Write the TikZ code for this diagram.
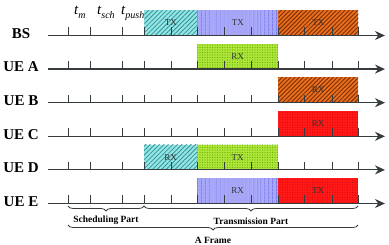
\documentclass[tikz,border=0pt]{standalone}
\usepackage{fontspec}
\setmainfont{Liberation Serif}
\usetikzlibrary{arrows.meta, patterns.meta, decorations.pathreplacing}
\definecolor{axisGray}{RGB}{55,60,62}
\definecolor{cyanFill}{RGB}{150,228,228}
\definecolor{cyanLine}{RGB}{45,150,155}
\definecolor{blueFill}{RGB}{165,165,250}
\definecolor{blueLine}{RGB}{85,85,215}
\definecolor{orangeFill}{RGB}{232,112,32}
\definecolor{orangeLine}{RGB}{125,45,0}
\definecolor{greenFill}{RGB}{175,230,60}
\definecolor{greenLine}{RGB}{105,175,0}
\definecolor{redFill}{RGB}{255,25,25}
\definecolor{redLine}{RGB}{215,0,0}

\tikzset{
  axis/.style={line width=1.2pt, axisGray, -{Stealth[length=10pt,width=9pt]}},
  tick/.style={line width=1pt, axisGray},
  lbl/.style={font=\fontsize{15}{15}\selectfont\bfseries},
  tlbl/.style={anchor=base west, inner sep=0pt, font=\fontsize{15}{15}\selectfont\itshape},
  slot/.style={anchor=south west, inner sep=0pt, minimum height=25pt,
    font=\fontsize{9}{9}\selectfont, text=black!80},
  cyanbox/.style={slot, minimum width=53pt, preaction={fill=cyanFill},
    pattern={Lines[angle=45, distance=3.2pt, line width=0.8pt]}, pattern color=cyanLine},
  bluebox/.style={slot, minimum width=81pt, preaction={fill=blueFill},
    pattern={Lines[angle=90, distance=4pt, line width=0.9pt]}, pattern color=blueLine},
  orangebox/.style={slot, minimum width=80pt, preaction={fill=orangeFill},
    pattern={Lines[angle=45, distance=3pt, line width=0.9pt]}, pattern color=orangeLine},
  greenbox/.style={slot, minimum width=81pt, preaction={fill=greenFill},
    pattern={Dots[distance=2.5pt, radius=0.7pt]}, pattern color=greenLine},
  redbox/.style={slot, minimum width=80pt, preaction={fill=redFill},
    pattern={Dots[distance=2.5pt, radius=0.5pt]}, pattern color=redLine},
  brc/.style={decorate, decoration={brace, mirror, amplitude=5pt}, line width=0.8pt, axisGray},
  part/.style={font=\fontsize{9.5}{9.5}\selectfont\bfseries, inner sep=0pt}
}

\begin{document}
\begin{tikzpicture}[x=1pt, y=-1pt]
\useasboundingbox (0,0) rectangle (389,245);

% time labels
\node[tlbl] (tm) at (74,15) {t\raisebox{-3.5pt}{\fontsize{10}{10}\selectfont m}};
\node[tlbl] (tsch) at (97,15) {t\raisebox{-3.5pt}{\fontsize{10}{10}\selectfont sch}};
\node[tlbl] (tpush) at (121,15) {t\raisebox{-3.5pt}{\fontsize{10}{10}\selectfont push}};

% slots
\node[cyanbox] (bs-tx1) at (144,35.5) {TX};
\node[bluebox] (bs-tx2) at (197,35.5) {TX};
\node[orangebox] (bs-tx3) at (278,35.5) {TX};
\node[greenbox] (uea-rx) at (197,69.1) {RX};
\node[orangebox] (ueb-rx) at (278,102.7) {RX};
\node[redbox] (uec-rx) at (278,136.3) {RX};
\node[cyanbox] (ued-rx) at (144,169.9) {RX};
\node[greenbox] (ued-tx) at (197,169.9) {TX};
\node[bluebox] (uee-rx) at (197,203.5) {RX};
\node[redbox] (uee-tx) at (278,203.5) {TX};

% time axes
\foreach \name/\txt/\y in {bs/BS/35.5, uea/UE A/69.1, ueb/UE B/102.7,
    uec/UE C/136.3, ued/UE D/169.9, uee/UE E/203.5} {
  \node[lbl] (\name) at (21,\y-2) {\txt};
  \coordinate (\name-s) at (48,\y);
  \coordinate (\name-e) at (385,\y);
  \draw[axis] (\name-s) -- (\name-e);
  \foreach \x in {68,90,122,144,171,197,224,251,278,304,332,358}
    \draw[tick] (\x,\y) -- ++(0,-8);
}

% braces
\coordinate (sch-l) at (68,206);
\coordinate (sch-r) at (144,206);
\coordinate (trn-r) at (358,206);
\coordinate (frm-l) at (68,225);
\coordinate (frm-r) at (358,225);
\draw[brc] (sch-l) -- (sch-r);
\draw[brc] (sch-r) -- (trn-r);
\draw[brc] (frm-l) -- (frm-r);
\node[part] (sched) at (106,220.5) {Scheduling Part};
\node[part] (trans) at (251,221.5) {Transmission Part};
\node[part] (frame) at (213,240) {A Frame};
\end{tikzpicture}
\end{document}
